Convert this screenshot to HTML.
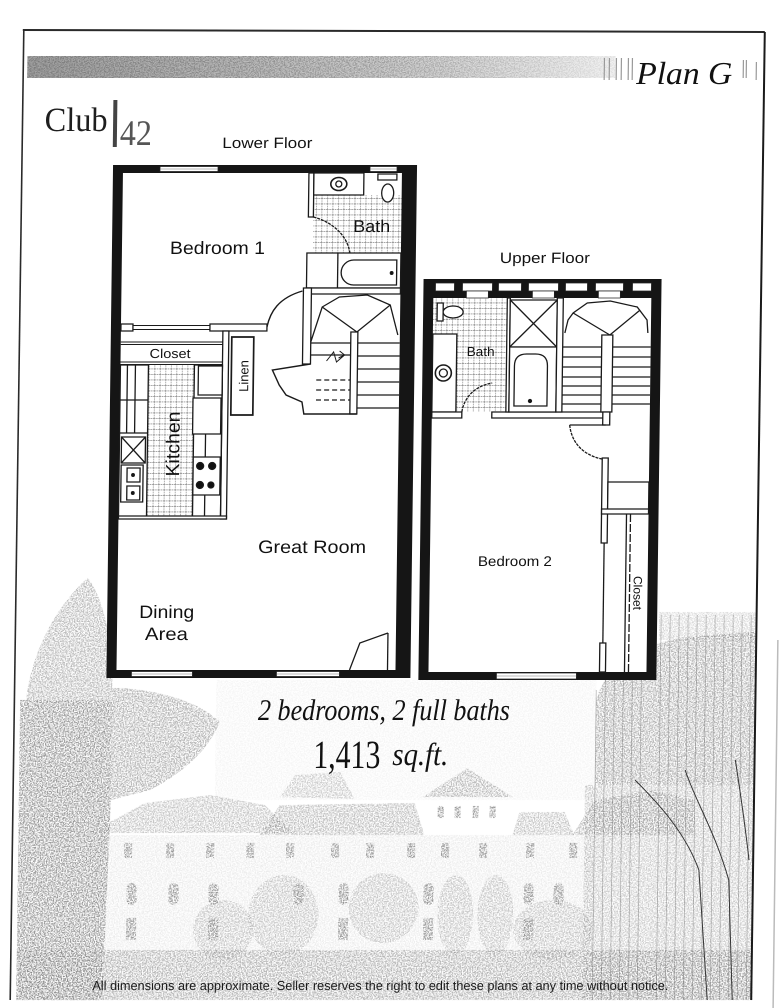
<!DOCTYPE html>
<html><head><meta charset="utf-8">
<style>
html,body{margin:0;padding:0;background:#fff;width:779px;height:1008px;overflow:hidden}
svg{display:block}
.sans{font-family:"Liberation Sans",Arial,sans-serif}
.serif{font-family:"Liberation Serif","Times New Roman",serif}
</style></head><body>
<svg xmlns="http://www.w3.org/2000/svg" width="779" height="1008" viewBox="0 0 779 1008">
<defs>
 <filter id="gr" filterUnits="userSpaceOnUse" x="-40" y="0" width="880" height="1010">
  <feTurbulence type="fractalNoise" baseFrequency="0.8" numOctaves="2" seed="4" result="n"/>
  <feColorMatrix in="n" type="matrix" values="0 0 0 0 0.2  0 0 0 0 0.2  0 0 0 0 0.2  5 0 0 0 -2.1" result="d"/>
  <feComposite in="d" in2="SourceGraphic" operator="in"/>
 </filter>
 <pattern id="tile" width="5.5" height="5.5" patternUnits="userSpaceOnUse">
  <rect width="5.5" height="5.5" fill="#fff"/>
  <path d="M0 0.4H5.5M0.4 0V5.5" stroke="#8f8f8f" stroke-width="0.7" stroke-dasharray="1.6 0.7"/>
 </pattern>
 <linearGradient id="bandBase" x1="0" x2="1" y1="0" y2="0">
  <stop offset="0" stop-color="#a0a0a0"/><stop offset="0.7" stop-color="#d4d4d4"/><stop offset="1" stop-color="#f2f2f2"/>
 </linearGradient>
 <linearGradient id="bandA" x1="0" x2="1" y1="0" y2="0">
  <stop offset="0" stop-color="#000" stop-opacity="1"/><stop offset="0.6" stop-color="#000" stop-opacity="0.6"/><stop offset="1" stop-color="#000" stop-opacity="0.15"/>
 </linearGradient>
</defs>
<rect width="779" height="1008" fill="#fff"/>

<g transform="matrix(1 0 -0.013 1 5.2 0)">

<!-- ===== background sketch ===== -->
<g filter="url(#gr)" fill="#000">
 <rect x="220" y="680" width="380" height="120" fill-opacity="0.08"/>
 <rect x="100" y="835" width="500" height="115" fill-opacity="0.15"/>
 <path d="M30,700 C35,650 60,605 90,578 C102,592 110,620 116,660 L116,700 Z" fill-opacity="0.55"/>
 <path d="M116,688 C150,688 200,698 224,722 C214,748 190,772 155,790 L116,800 Z" fill-opacity="0.6"/>
 <path d="M24,700 L116,700 L116,800 L110,1000 L24,1000 Z" fill-opacity="0.8"/>
 <path d="M95,833 L150,803 L215,795 L270,805 L300,833 Z" fill-opacity="0.45"/>
 <path d="M265,835 L285,805 L420,803 L430,835 Z" fill-opacity="0.5"/>
 <path d="M285,797 L300,775 L345,772 L360,799 Z" fill-opacity="0.35"/>
 <path d="M428,797 L472,768 L518,797 Z" fill-opacity="0.5"/>
 <path d="M518,835 L525,812 L570,812 L580,835 Z" fill-opacity="0.45"/>
 <path d="M578,835 L600,800 L660,790 L700,800 L700,835 Z" fill-opacity="0.5"/>
 <rect x="662" y="612" width="98" height="28" fill-opacity="0.3"/>
 <path d="M600,700 C610,665 640,642 700,636 L760,632 L760,785 L600,785 Z" fill-opacity="0.6"/>
 <rect x="590" y="785" width="170" height="215" fill-opacity="0.4"/>
 <g fill-opacity="0.8">
  <rect x="130" y="843" width="8" height="15"/><rect x="172" y="843" width="8" height="15"/><rect x="212" y="843" width="8" height="15"/>
  <rect x="252" y="843" width="8" height="15"/><rect x="292" y="843" width="8" height="15"/><rect x="337" y="843" width="8" height="15"/>
  <rect x="372" y="843" width="8" height="15"/><rect x="413" y="843" width="8" height="15"/><rect x="447" y="843" width="8" height="15"/>
  <rect x="485" y="843" width="8" height="15"/><rect x="532" y="843" width="8" height="15"/><rect x="575" y="843" width="8" height="15"/>
  <rect x="443" y="806" width="6" height="12"/><rect x="460" y="806" width="6" height="12"/><rect x="478" y="806" width="6" height="12"/><rect x="495" y="806" width="6" height="12"/>
  <rect x="133" y="883" width="10" height="22" rx="5"/><rect x="175" y="883" width="10" height="22" rx="5"/><rect x="215" y="883" width="10" height="22" rx="5"/>
  <rect x="300" y="883" width="10" height="22" rx="5"/><rect x="345" y="883" width="10" height="22" rx="5"/><rect x="430" y="883" width="10" height="22" rx="5"/>
  <rect x="530" y="883" width="10" height="22" rx="5"/><rect x="560" y="883" width="10" height="22" rx="5"/>
  <rect x="133" y="918" width="10" height="22"/><rect x="215" y="918" width="10" height="22"/><rect x="345" y="918" width="10" height="22"/>
  <rect x="430" y="918" width="10" height="22"/><rect x="530" y="918" width="10" height="22"/>
 </g>
 <g fill-opacity="0.35">
  <ellipse cx="290" cy="915" rx="35" ry="40"/><ellipse cx="390" cy="908" rx="35" ry="35"/>
  <ellipse cx="462" cy="915" rx="18" ry="40"/><ellipse cx="502" cy="915" rx="18" ry="40"/>
  <ellipse cx="560" cy="930" rx="40" ry="30"/><ellipse cx="230" cy="930" rx="30" ry="30"/>
 </g>
 <rect x="24" y="950" width="736" height="50" fill-opacity="0.6"/>
</g>
<g stroke="#666" stroke-width="0.7" opacity="0.5">
 <path d="M600,690V1000M609,640V1000M618,640V1000M627,660V1000M636,640V1000M645,640V1000M664,615V1000M673,615V1000M682,615V1000M691,615V1000M700,615V1000M709,615V1000M718,615V1000M727,615V1000M736,615V1000M745,615V1000M754,615V1000"/>
</g>
<g stroke="#333" stroke-width="1" fill="none">
 <path d="M640,780 C660,800 690,830 705,870 L715,1000"/>
 <path d="M690,770 C700,800 720,830 735,880 L740,1000"/>
 <path d="M740,760 C745,790 750,820 755,860"/>
</g>

<!-- ===== page frame ===== -->
<line x1="18" y1="30" x2="760" y2="32" stroke="#2a2a2a" stroke-width="2"/>
<line x1="19" y1="30" x2="18" y2="1000" stroke="#2a2a2a" stroke-width="1.6"/>
<line x1="760" y1="32" x2="759" y2="1000" stroke="#1a1a1a" stroke-width="2"/>
<line x1="781" y1="640" x2="781" y2="1008" stroke="#bbb" stroke-width="1.5"/>

<!-- ===== header ===== -->
<rect x="23" y="56" width="588" height="22" fill="url(#bandBase)"/>
<rect x="23" y="56" width="588" height="22" fill="url(#bandA)" filter="url(#gr)"/>
<g stroke="#999" stroke-width="1.2">
 <path d="M600,58V80M605,58V80M612,58V80M617,58V80M624,58V80M628,58V80M739,60V78M742,60V78M752,62V80"/>
</g>
<text x="632" y="84" class="serif" font-size="32" font-style="italic" fill="#111" textLength="96" lengthAdjust="spacingAndGlyphs">Plan G</text>

<text x="41" y="131" class="serif" font-size="34" fill="#1e1e1e" textLength="63" lengthAdjust="spacingAndGlyphs">Club</text>
<rect x="109.5" y="100" width="4" height="47" fill="#444"/>
<text x="116.5" y="145" class="serif" font-size="36" fill="#555" textLength="32" lengthAdjust="spacingAndGlyphs">42</text>

<text x="219" y="148" class="sans" font-size="15" fill="#111" textLength="90" lengthAdjust="spacingAndGlyphs">Lower Floor</text>
<text x="498" y="263" class="sans" font-size="15" fill="#111" textLength="90" lengthAdjust="spacingAndGlyphs">Upper Floor</text>

<!-- ===== LOWER FLOOR ===== -->
<rect x="110" y="165" width="304" height="513" fill="#fff"/>
<rect x="311" y="195" width="88" height="58" fill="url(#tile)"/>
<rect x="148" y="365" width="46" height="153" fill="url(#tile)"/>
<path d="M110,165H414V678H110Z M120,173V670H399V173Z" fill="#151515" fill-rule="evenodd"/>
<g fill="#fff" stroke="#222" stroke-width="0.8">
 <rect x="157" y="166.5" width="58" height="5"/><rect x="367" y="166.5" width="27" height="5"/>
 <rect x="135" y="671.5" width="61" height="5"/><rect x="280" y="671.5" width="63" height="5"/>
</g>
<g stroke="#777" stroke-width="0.6">
 <path d="M157,169H215M367,169H394M135,674H196M280,674H343"/>
</g>

<g fill="none" stroke="#1a1a1a" stroke-width="1.3">
 <!-- bath -->
 <rect x="306" y="173" width="5" height="44" fill="#fff"/>
 <rect x="311" y="173" width="50" height="22" fill="#fff"/>
 <ellipse cx="336" cy="184" rx="8" ry="6.5" stroke-width="1.6"/>
 <circle cx="336" cy="184" r="3"/>
 <rect x="375" y="174" width="19" height="6" fill="#fff"/>
 <ellipse cx="385" cy="193" rx="6" ry="9" fill="#fff"/>
 <path d="M311,217 C330,222 345,235 348,253" stroke-dasharray="3 1"/>
 <rect x="305" y="253" width="94" height="35" fill="#fff"/>
 <line x1="336" y1="253" x2="336" y2="288"/>
 <path d="M352,260 H395 V285 H352 A12.5,12.5 0 0 1 352,260Z"/>
 <circle cx="390" cy="273" r="1.3" fill="#111"/>
 <rect x="305" y="288" width="94" height="6" fill="#fff"/>
 <rect x="302" y="288" width="8" height="76" fill="#fff"/>
 <!-- stairs -->
 <polyline points="310,342 321,307 338,297 366,295 389,305 397,335"/>
 <path d="M356,332 L321,307 M356,332 L389,305"/>
 <path d="M357,343H399M357,356H399M357,369H399M357,382H399M357,395H399M357,408H399"/>
 <path d="M310,343H350M310,355H350"/>
 <path d="M316,380H350M316,390H350M316,400H350" stroke-dasharray="5 3"/>
 <rect x="350" y="332" width="7" height="82" fill="#fff"/>
 <path d="M326,361 L333,352 L336,362 L344,355 M339,351 L344,355 L338,358" stroke-width="1"/>
 <polyline points="310,364 272,370 279,385 286,395 302,402 304,414 357,414" stroke-width="1.4"/>
 <path d="M266,327 C269,312 277,298 301,291" stroke-width="1.4"/>
 <!-- closet -->
 <rect x="120" y="324" width="12" height="7" fill="#fff"/>
 <path d="M132,325.5H209M132,329.5H209" stroke-width="1"/>
 <rect x="209" y="324" width="57" height="7" fill="#fff"/>
 <path d="M120,342H222M120,344.5H222M120,362H222M120,364.5H222" stroke-width="1"/>
 <rect x="222" y="331" width="6" height="188" fill="#fff"/>
 <rect x="231" y="337" width="22" height="78" fill="#fff" stroke-width="1.7"/>
 <!-- kitchen -->
 <rect x="120" y="365" width="28" height="153"/>
 <path d="M127,365V433M135,365V433M120,400H148M120,433H148"/>
 <rect x="122" y="437" width="24" height="26"/>
 <path d="M122,437L146,463M146,437L122,463"/>
 <rect x="122" y="465" width="22" height="37"/>
 <rect x="128" y="468" width="13" height="14"/>
 <rect x="128" y="486" width="13" height="14"/>
 <circle cx="134" cy="475" r="1.3" fill="#111"/><circle cx="134" cy="493" r="1.3" fill="#111"/>
 <rect x="194" y="365" width="28" height="153"/>
 <rect x="198" y="366" width="24" height="29" fill="#fff"/>
 <rect x="193" y="398" width="28" height="36" fill="#fff"/>
 <path d="M206,434V457M206,495V518"/>
 <rect x="194" y="457" width="27" height="38" fill="#fff"/>
 <circle cx="201" cy="466" r="3.5" fill="#111"/><circle cx="213" cy="466" r="3.5" fill="#111"/>
 <circle cx="201" cy="485" r="3.5" fill="#111"/><circle cx="212" cy="485" r="3" fill="#111"/>
 <rect x="120" y="516" width="108" height="3" fill="#fff"/>
 <!-- entry door -->
 <polyline points="353,670 363,643 391,633"/>
 <line x1="391" y1="633" x2="391" y2="670"/>
</g>

<g class="sans" fill="#111">
 <text x="168" y="254" font-size="18" textLength="95" lengthAdjust="spacingAndGlyphs">Bedroom 1</text>
 <text x="351" y="232" font-size="17" textLength="37" lengthAdjust="spacingAndGlyphs">Bath</text>
 <text x="149" y="358" font-size="13" textLength="41" lengthAdjust="spacingAndGlyphs">Closet</text>
 <text x="248" y="376" font-size="13" text-anchor="middle" transform="rotate(-90 248 376)">Linen</text>
 <text x="180" y="444" font-size="19" text-anchor="middle" transform="rotate(-90 180 444)" textLength="65" lengthAdjust="spacingAndGlyphs">Kitchen</text>
 <text x="260" y="553" font-size="18" textLength="108" lengthAdjust="spacingAndGlyphs">Great Room</text>
 <text x="142" y="618" font-size="18" textLength="55" lengthAdjust="spacingAndGlyphs">Dining</text>
 <text x="148" y="640" font-size="18" textLength="43" lengthAdjust="spacingAndGlyphs">Area</text>
</g>

<!-- ===== UPPER FLOOR ===== -->
<rect x="422" y="279" width="238" height="401" fill="#fff"/>
<rect x="432" y="298" width="74" height="114" fill="url(#tile)"/>
<path d="M422,279H660V680H422Z M432,298V672H650V298Z" fill="#151515" fill-rule="evenodd"/>
<g fill="#fff" stroke="#222" stroke-width="0.8">
 <rect x="434" y="283" width="19" height="8"/>
 <rect x="461" y="283" width="30" height="8"/>
 <rect x="497" y="283" width="23" height="8"/>
 <rect x="527" y="283" width="30" height="8"/>
 <rect x="564" y="283" width="22" height="8"/>
 <rect x="594" y="283" width="28" height="8"/>
 <rect x="631" y="283" width="19" height="8"/>
 <rect x="465" y="291" width="22" height="7"/>
 <rect x="531" y="291" width="22" height="7"/>
 <rect x="597" y="291" width="22" height="7"/>
 <rect x="500" y="673" width="80" height="6"/>
</g>
<line x1="500" y1="676" x2="580" y2="676" stroke="#777" stroke-width="0.6"/>

<g fill="none" stroke="#1a1a1a" stroke-width="1.3">
 <rect x="436" y="303" width="6" height="18" fill="#fff"/>
 <ellipse cx="452" cy="312" rx="10" ry="6" fill="#fff"/>
 <rect x="432" y="334" width="24" height="78" fill="#fff"/>
 <circle cx="443" cy="373" r="8" stroke-width="1.6"/>
 <circle cx="443" cy="373" r="4"/>
 <path d="M462,412 C464,398 474,386 492,383" stroke-dasharray="3 1"/>
 <rect x="432" y="412" width="30" height="6" fill="#fff"/>
 <rect x="492" y="412" width="117" height="6" fill="#fff"/>
 <rect x="506" y="298" width="3" height="114" fill="#fff"/>
 <rect x="509" y="300" width="47" height="47" fill="#fff"/>
 <path d="M509,300L556,347M556,300L509,347"/>
 <rect x="509" y="347" width="47" height="65" fill="#fff"/>
 <path d="M514,406 V366 Q514,354 526,354 H535 Q547,354 547,366 V406 Z"/>
 <circle cx="530" cy="401" r="1.5" fill="#111"/>
 <rect x="556" y="298" width="6" height="114" fill="#fff"/>
 <polyline points="564,333 567,320 572,313 586,303 609,301 636,307 646,320 647,333"/>
 <path d="M609,335 L572,313 M609,335 L639,310"/>
 <path d="M562,347H601M562,357H601M562,367H601M562,377H601M562,386H601M562,395H601M562,404H601"/>
 <path d="M612,347H650M612,357H650M612,367H650M612,377H650M612,386H650M612,395H650M612,404H650"/>
 <rect x="601" y="335" width="11" height="77" fill="#fff"/>
 <rect x="603" y="412" width="7" height="13" fill="#fff"/>
 <line x1="570" y1="425" x2="606" y2="425"/>
 <path d="M570,425 C572,442 583,455 603,459" stroke-dasharray="3 1"/>
 <rect x="603" y="458" width="6" height="85" fill="#fff"/>
 <rect x="609" y="482" width="41" height="28" fill="#fff"/>
 <rect x="603" y="509" width="47" height="5" fill="#fff"/>
 <line x1="606" y1="543" x2="606" y2="643"/>
 <rect x="603" y="643" width="6" height="29" fill="#fff"/>
 <line x1="628" y1="514" x2="628" y2="672"/>
 <line x1="632" y1="514" x2="632" y2="672" stroke-dasharray="8 2"/>
</g>
<g class="sans" fill="#111">
 <text x="466" y="356" font-size="13" textLength="28" lengthAdjust="spacingAndGlyphs">Bath</text>
 <text x="480" y="566" font-size="14" textLength="74" lengthAdjust="spacingAndGlyphs">Bedroom 2</text>
 <text x="636" y="593" font-size="12" text-anchor="middle" transform="rotate(90 636 593)">Closet</text>
</g>

<!-- ===== bottom text ===== -->
<text x="262" y="720" class="serif" font-size="30" font-style="italic" fill="#111" textLength="252" lengthAdjust="spacingAndGlyphs">2 bedrooms,  2 full baths</text>
<text x="318" y="768" class="serif" font-size="40" fill="#111" textLength="67" lengthAdjust="spacingAndGlyphs">1,413</text>
<text x="397" y="765" class="serif" font-size="32" font-style="italic" fill="#111" textLength="56" lengthAdjust="spacingAndGlyphs">sq.ft.</text>
<text x="100" y="990" class="sans" font-size="13" fill="#1a1a1a" textLength="576" lengthAdjust="spacingAndGlyphs">All dimensions are approximate.  Seller reserves the right to edit these plans at any time without notice.</text>

</g>
</svg>
</body></html>
